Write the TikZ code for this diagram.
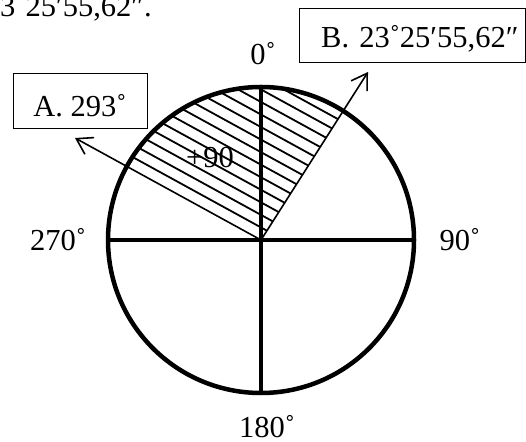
\documentclass[tikz,border=0pt]{standalone}
\usepackage{fontspec}
\setmainfont{Liberation Serif}
\usetikzlibrary{arrows.meta}
\begin{document}
\begin{tikzpicture}[x=1pt,y=1pt,
  lbl/.style={font=\fontsize{30.5}{35}\selectfont, inner sep=0pt},
  boxA/.style={lbl, draw, line width=1pt, minimum width=134pt, text height=43pt, text depth=12pt},
  boxB/.style={lbl, draw, line width=1pt, inner xsep=7pt, text width=212pt, align=right, text height=39pt, text depth=15pt},
  heavy/.style={line width=4.5pt},
  hatch/.style={line width=1.8pt},
  arr/.style={line width=1.6pt, -{Straight Barb[length=15pt,width=19pt,line width=1.6pt]}}]
\useasboundingbox (0,0) rectangle (526,441);
\coordinate (O) at (261,201);
\coordinate (N) at (261,354);
\coordinate (S) at (261,48);
\coordinate (E) at (414,201);
\coordinate (W) at (108,201);
\coordinate (Atip) at (75,303);
\coordinate (Btip) at (368,369);
% hatching of the sector
\begin{scope}
  \clip (O) -- ++(151.26:153) arc[start angle=151.26, end angle=57.5, radius=153] -- cycle;
  \foreach \k in {1,...,13}
    \draw[hatch, shift={(O)}] (61.26:{11*\k}) ++(151.26:200) -- ++(-28.74:400);
\end{scope}
% arrows
\draw[arr] (O) -- (Atip);
\draw[arr] (O) -- (Btip);
% circle and cross
\draw[heavy] (O) circle[radius=153];
\draw[heavy] (W) -- (E);
\draw[heavy] (N) -- (S);
% labels
\node[lbl, anchor=base] (n0) at (263,376) {0˚};
\node[lbl, anchor=base] (n90) at (460,190) {90˚};
\node[lbl, anchor=base] (n180) at (267,4) {180˚};
\node[lbl, anchor=base] (n270) at (58,190) {270˚};
\node[lbl, anchor=base] (plus) at (210,273) {+90};
\node[boxA, anchor=base] (A) at (80,324) {A. 293˚};
\node[boxB, anchor=base west] (B) at (299,393) {B. 23˚25′55,62″};
\node[lbl, anchor=base west] (top) at (0,424) {3˚25′55,62″.};
\end{tikzpicture}
\end{document}
